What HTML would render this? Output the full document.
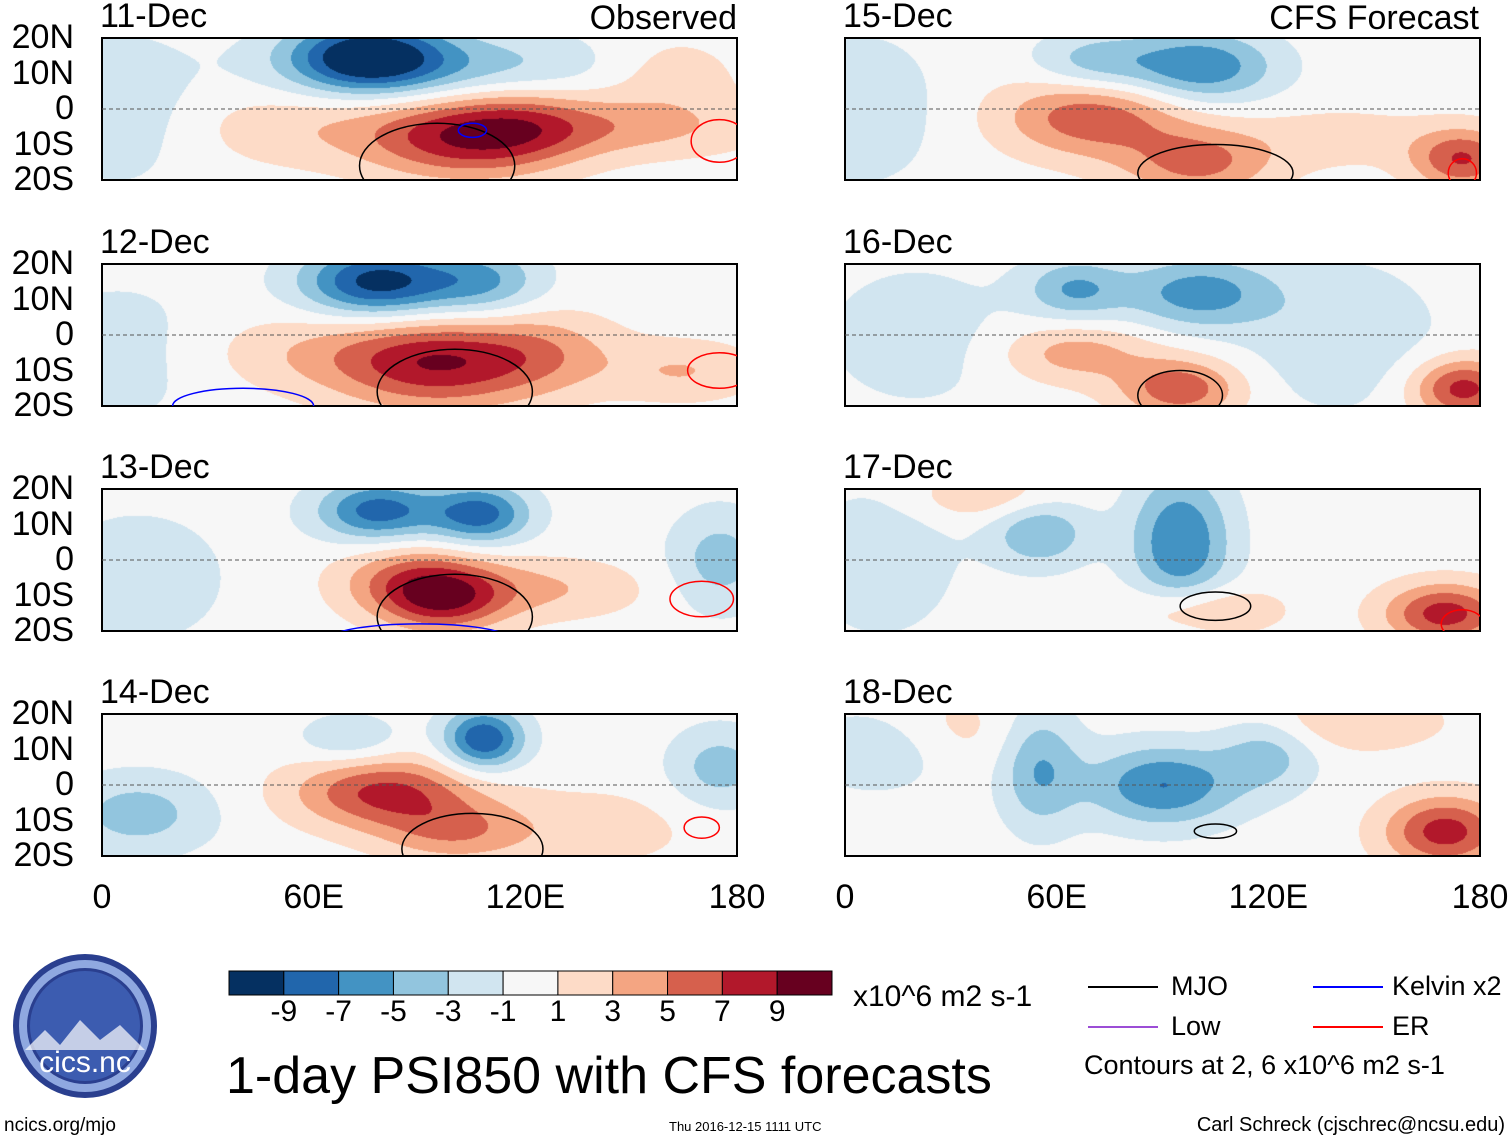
<!DOCTYPE html>
<html><head><meta charset="utf-8">
<style>
body{margin:0;background:#fff;width:1510px;height:1142px;position:relative;overflow:hidden;font-family:"Liberation Sans",sans-serif;color:#000}
.t{position:absolute;white-space:nowrap;line-height:1}
canvas{position:absolute}
.frame{position:absolute;border:2px solid #000;box-sizing:border-box}
</style></head><body>
<div id="root"></div>
<svg id="ov" width="1510" height="1142" style="position:absolute;left:0;top:0"></svg>
<script>
// Chart data: per panel blob arrays (lon, lat, amplitude, spread lon, spread lat)
const panelTitles = ["11-Dec","12-Dec","13-Dec","14-Dec","15-Dec","16-Dec","17-Dec","18-Dec"];
const blobLon = [
 [75,100,100,120,150,5,160,60],
 [78,108,95,125,165,5,60],
 [78,107,90,97,175,125,10],
 [108,80,100,175,10,70,140],
 [70,100,70,100,175,5,140],
 [65,100,65,95,175,140,20],
 [55,95,10,100,170,40],
 [55,90,120,170,140,10,30]
];
const blobLat = [
 [15,12,-8,-5,-5,0,10,-5],
 [15,15,-8,-5,-10,-5,-5],
 [14,13,-6,-12,0,-8,-5],
 [13,-2,-13,5,-8,13,-12],
 [-2,12,13,-15,-14,0,-8],
 [13,12,-5,-15,-15,0,0],
 [8,5,0,-14,-15,18],
 [5,0,10,-13,18,10,15]
];
const blobAmp = [
 [-10,-4,7,4.5,3.5,-2.5,2.5,2.5],
 [-10,-5,8,3.5,3,-2,2.5],
 [-8,-8,6.5,5.5,-4,3,-2],
 [-9,7.5,4.5,-4,-4,-3,2],
 [6.5,-7,-4,5.5,7,-2.5,2],
 [-5,-6,4,6.5,8,-2.5,-2],
 [-5,-7,-2.5,4,8,3],
 [-5,-7,-4,8,3,-3,2]
];
const blobSx = [
 [15,35,18,15,25,15,15,25],
 [15,12,20,15,15,20,25],
 [12,10,15,12,10,20,20],
 [8,18,15,10,15,10,20],
 [18,15,12,15,10,15,20],
 [10,15,15,12,10,20,20],
 [10,10,15,15,12,15],
 [8,15,10,12,20,15,15]
];
const blobSy = [
 [7,7,8,8,6,15,8,8],
 [7,7,9,8,6,15,8],
 [6,6,7,6,10,6,15],
 [6,7,6,8,8,5,8],
 [8,7,6,7,6,15,6],
 [6,7,6,6,6,15,15],
 [7,14,15,5,6,5],
 [12,8,8,7,6,8,8]
];
// contour ellipses: panel, lon, lat, rx(deg), ry(deg), color
const ctrPanel = [0,0,0,1,1,1,2,2,2,3,3,4,4,5,6,6,7];
const ctrLon   = [95,105,175,100,175,40,100,90,170,105,170,105,175,95,105,175,105];
const ctrLat   = [-16,-6,-9,-16,-10,-20,-16,-22,-11,-18,-12,-18,-18,-17,-13,-18,-13];
const ctrRx    = [22,4,8,22,9,20,22,25,9,20,5,22,4,12,10,6,6];
const ctrRy    = [12,2,6,12,5,5,12,4,5,10,3,8,4,7,4,4,2];
const ctrCol   = ["#000","#00f","#f00","#000","#f00","#00f","#000","#00f","#f00","#000","#f00","#000","#f00","#000","#000","#f00","#000"];
const levels = [-9,-7,-5,-3,-1,1,3,5,7,9];
const cbLabels = ["-9","-7","-5","-3","-1","1","3","5","7","9"];
const palette = ["#053061","#2166ac","#4393c3","#92c5de","#d1e5f0","#f7f7f7","#fddbc7","#f4a582","#d6604d","#b2182b","#67001f"];
const latTicks = ["20N","10N","0","10S","20S"];
const lonTicks = ["0","60E","120E","180"];

const root=document.getElementById('root');
const ov=document.getElementById('ov');
const NS='http://www.w3.org/2000/svg';
const PW=635,PH=142;
const colX=[102,845], rowY=[38,264,489,714];
function hex(c){return [parseInt(c.substr(1,2),16),parseInt(c.substr(3,2),16),parseInt(c.substr(5,2),16)];}
const palRGB=palette.map(hex);
function colorIdx(v){let i=0;while(i<levels.length&&v>=levels[i])i++;return i;}
function xOf(p,lon){return colX[Math.floor(p/4)]+lon/180*PW;}
function yOf(p,lat){return rowY[p%4]+(20-lat)/40*PH;}
function txt(x,y,s,size,name,anchor){
  const d=document.createElement('div');d.className='t';d.textContent=s;
  d.style.fontSize=size+'px';d.style.top=y+'px';
  if(anchor==='r'){d.style.right=(1510-x)+'px';}else if(anchor==='c'){d.style.left=x+'px';d.style.transform='translateX(-50%)';}else d.style.left=x+'px';
  
  
  root.appendChild(d);return d;
}
for(let p=0;p<8;p++){
  const px=colX[Math.floor(p/4)], py=rowY[p%4];
  const cv=document.createElement('canvas');cv.width=PW;cv.height=PH;
  cv.style.left=px+'px';cv.style.top=py+'px';
  
  
  root.appendChild(cv);
  const ctx=cv.getContext('2d');const im=ctx.createImageData(PW,PH);
  for(let j=0;j<PH;j++){const lat=20-j/PH*40;
    for(let i=0;i<PW;i++){const lon=i/PW*180;let v=0;
      for(let k=0;k<blobLon[p].length;k++){const dx=(lon-blobLon[p][k])/blobSx[p][k],dy=(lat-blobLat[p][k])/blobSy[p][k];
        v+=blobAmp[p][k]*Math.exp(-(dx*dx+dy*dy)/2);}
      const c=palRGB[colorIdx(v)];const o=(j*PW+i)*4;im.data[o]=c[0];im.data[o+1]=c[1];im.data[o+2]=c[2];im.data[o+3]=255;}}
  ctx.putImageData(im,0,0);
  const f=document.createElement('div');f.className='frame';
  f.style.left=(px-1)+'px';f.style.top=(py-1)+'px';f.style.width=(PW+2)+'px';f.style.height=(PH+2)+'px';
  
  
  root.appendChild(f);
  const eq=document.createElementNS(NS,'line');
  eq.setAttribute('x1',px);eq.setAttribute('x2',px+PW);eq.setAttribute('y1',py+PH/2);eq.setAttribute('y2',py+PH/2);
  eq.setAttribute('stroke','#555');eq.setAttribute('stroke-dasharray','4,3');eq.setAttribute('stroke-width','1');
  
  
  ov.appendChild(eq);
  txt(px-2,py-39,panelTitles[p],34,'panel-date');
  if(p<4){latTicks.forEach((l,k)=>{txt(74,py+k*PH/4-18,l,34,'lat-tick-label','r');});}
}
// contours, clipped to panels
const defs=document.createElementNS(NS,'defs');ov.appendChild(defs);
for(let p=0;p<8;p++){const cp=document.createElementNS(NS,'clipPath');cp.setAttribute('id','cp'+p);
  const r=document.createElementNS(NS,'rect');r.setAttribute('x',colX[Math.floor(p/4)]);r.setAttribute('y',rowY[p%4]);r.setAttribute('width',PW);r.setAttribute('height',PH);cp.appendChild(r);defs.appendChild(cp);}
ctrPanel.forEach((p,i)=>{const e=document.createElementNS(NS,'ellipse');
  e.setAttribute('cx',xOf(p,ctrLon[i]));e.setAttribute('cy',yOf(p,ctrLat[i]));
  e.setAttribute('rx',ctrRx[i]/180*PW);e.setAttribute('ry',ctrRy[i]/40*PH);
  e.setAttribute('fill','none');e.setAttribute('stroke',ctrCol[i]);e.setAttribute('stroke-width','1.5');
  e.setAttribute('clip-path','url(#cp'+p+')');
  
  
  ov.appendChild(e);});
txt(737,1,"Observed",34,'observed-label','r');
txt(1479,1,"CFS Forecast",34,'forecast-label','r');
colX.forEach(cx=>{lonTicks.forEach((l,k)=>{txt(cx+k*PW/3,880,l,34,'lon-tick-label','c');});});
// colorbar
const cbx=229,cby=971,cbw=603,cbh=24,n=palette.length;
palette.forEach((c,i)=>{const r=document.createElementNS(NS,'rect');
  r.setAttribute('x',cbx+i*cbw/n);r.setAttribute('y',cby);r.setAttribute('width',cbw/n);r.setAttribute('height',cbh);
  r.setAttribute('fill',c);r.setAttribute('stroke','#000');r.setAttribute('stroke-width','1');
  
  
  ov.appendChild(r);});
cbLabels.forEach((l,i)=>{txt(cbx+(i+1)*cbw/n,997,l,30,'colorbar-label','c');});
txt(853,982,"x10^6 m2 s-1",30,'colorbar-units');
txt(226,1050,"1-day PSI850 with CFS forecasts",52,'chart-title');
// legend
const leg=[[1088,987,'#000','MJO',1171],[1088,1027,'#9c4dd6','Low',1171],[1313,987,'#0000ff','Kelvin x2',1392],[1313,1027,'#ff0000','ER',1392]];
leg.forEach(g=>{const ln=document.createElementNS(NS,'line');ln.setAttribute('x1',g[0]);ln.setAttribute('x2',g[0]+70);ln.setAttribute('y1',g[1]);ln.setAttribute('y2',g[1]);ln.setAttribute('stroke',g[2]);ln.setAttribute('stroke-width','2');
  
  
  ov.appendChild(ln);txt(g[4],g[1]-14,g[3],27,'legend-entry');});
txt(1084,1052,"Contours at 2, 6 x10^6 m2 s-1",27,'contour-note');
txt(4,1116,"ncics.org/mjo",19,'source-url');
txt(669,1120,"Thu 2016-12-15 1111 UTC",13,'timestamp');
txt(1505,1115,"Carl Schreck (cjschrec@ncsu.edu)",20,'author','r');
// logo
const lg=document.createElementNS(NS,'g');


lg.innerHTML='<circle cx="85" cy="1026" r="72" fill="#2a3f8f"/><circle cx="85" cy="1026" r="62" fill="none" stroke="#8fa8e0" stroke-width="8"/><circle cx="85" cy="1026" r="55" fill="#3c5cb0"/><path d="M25 1050 L45 1030 L60 1045 L80 1020 L100 1040 L120 1025 L145 1050 Z" fill="#fff" opacity="0.7"/><text x="85" y="1072" font-size="30" fill="#fff" text-anchor="middle" font-family="Liberation Sans">cics.nc</text>';
ov.appendChild(lg);
</script>
</body></html>
